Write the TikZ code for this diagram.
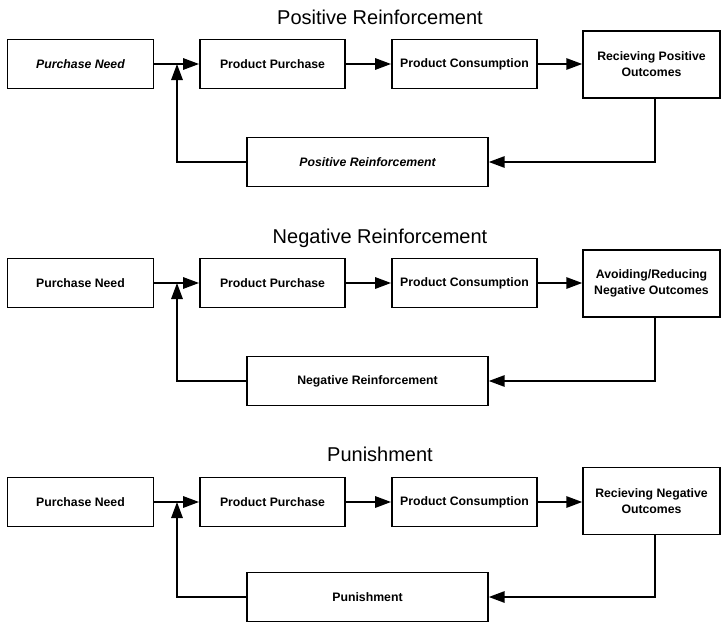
\documentclass[tikz,border=0pt]{standalone}
\usepackage{fontspec}
\setmainfont{Liberation Sans}
\usetikzlibrary{arrows.meta, positioning, calc}

\tikzset{
  box/.style={draw, line width=1.1pt, minimum width=109pt, minimum height=36.75pt,
    inner sep=1pt, font=\fontsize{9.2}{12}\selectfont\bfseries},
  outbox/.style={box, minimum width=102.75pt, minimum height=50.25pt, align=center},
  fbbox/.style={box, minimum width=180.75pt},
  ttl/.style={anchor=base, font=\fontsize{15}{18}\selectfont},
  arr/.style={line width=1.5pt, -{Triangle[length=12pt,width=8.5pt]}},
}

\begin{document}
\begin{tikzpicture}[x=0.75pt, y=-0.75pt]
  \useasboundingbox (0,0) rectangle (721,622);

  % Positive reinforcement
  \node[ttl] (title1) at (380,24) {Positive Reinforcement};
  \node[box, minimum width=109.5pt] (need1) at (80.5,64) {\itshape Purchase Need};
  \node[box] (buy1) at (272.5,64) {Product Purchase};
  \node[box] (use1) at (464.5,64) {Product Consumption};
  \node[outbox] (out1) at (651.5,64.5) {Recieving Positive\\Outcomes};
  \node[fbbox] (fb1) at (367.5,162) {\itshape Positive Reinforcement};
  \coordinate (jn1) at (177,64);
  \draw[arr] (need1) -- (buy1);
  \draw[arr] (buy1) -- (use1);
  \draw[arr] (use1) -- (use1 -| out1.west);
  \draw[arr] ([xshift=2.5pt]out1.south) |- (fb1.east);
  \draw[arr] (fb1.west) -| (jn1);

  % Negative reinforcement
  \node[ttl] (title2) at (380,243) {Negative Reinforcement};
  \node[box, minimum width=109.5pt] (need2) at (80.5,283) {Purchase Need};
  \node[box] (buy2) at (272.5,283) {Product Purchase};
  \node[box] (use2) at (464.5,283) {Product Consumption};
  \node[outbox] (out2) at (651.5,283.5) {Avoiding/Reducing\\Negative Outcomes};
  \node[fbbox] (fb2) at (367.5,381) {Negative Reinforcement};
  \coordinate (jn2) at (177,283);
  \draw[arr] (need2) -- (buy2);
  \draw[arr] (buy2) -- (use2);
  \draw[arr] (use2) -- (use2 -| out2.west);
  \draw[arr] ([xshift=2.5pt]out2.south) |- (fb2.east);
  \draw[arr] (fb2.west) -| (jn2);

  % Punishment
  \node[ttl] (title3) at (380,461) {Punishment};
  \node[box, minimum width=109.5pt] (need3) at (80.5,502) {Purchase Need};
  \node[box] (buy3) at (272.5,502) {Product Purchase};
  \node[box] (use3) at (464.5,502) {Product Consumption};
  \node[outbox] (out3) at (651.5,501) {Recieving Negative\\Outcomes};
  \node[fbbox] (fb3) at (367.5,597) {Punishment};
  \coordinate (jn3) at (177,502);
  \draw[arr] (need3) -- (buy3);
  \draw[arr] (buy3) -- (use3);
  \draw[arr] (use3) -- (use3 -| out3.west);
  \draw[arr] ([xshift=2.5pt]out3.south) |- (fb3.east);
  \draw[arr] (fb3.west) -| (jn3);
\end{tikzpicture}
\end{document}
